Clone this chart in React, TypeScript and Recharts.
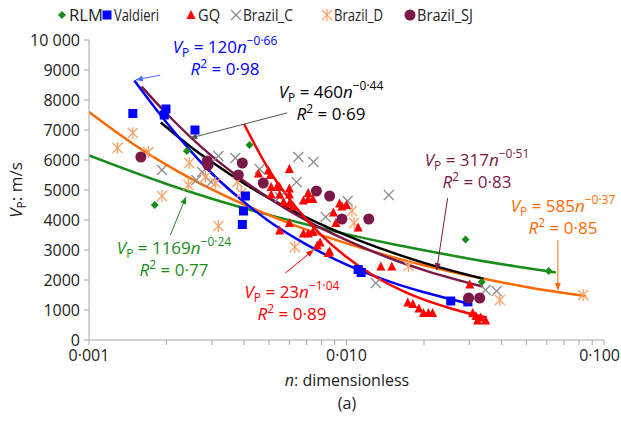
import React from 'react';
import { ComposedChart, Scatter, Line, XAxis, YAxis, ReferenceLine } from 'recharts';

// measured points, n (dimensionless) vs Vp (m/s)
const rlm = [
  { n: 0.0018, v: 4500 }, { n: 0.0024, v: 6300 }, { n: 0.0042, v: 6500 },
  { n: 0.029, v: 3350 }, { n: 0.0335, v: 1930 }, { n: 0.061, v: 2300 },
];
const valdieri = [
  { n: 0.00148, v: 7550 }, { n: 0.00199, v: 7700 }, { n: 0.00196, v: 7500 }, { n: 0.00258, v: 7000 },
  { n: 0.00405, v: 4800 }, { n: 0.00398, v: 4300 }, { n: 0.00394, v: 3850 }, { n: 0.0111, v: 2350 },
  { n: 0.0114, v: 2250 }, { n: 0.0254, v: 1300 }, { n: 0.0296, v: 1270 },
];
const gq = [
  { n: 0.00455, v: 5550 }, { n: 0.00497, v: 5650 }, { n: 0.006, v: 5700 }, { n: 0.00506, v: 5500 },
  { n: 0.0051, v: 5100 }, { n: 0.0054, v: 5150 }, { n: 0.0055, v: 5100 }, { n: 0.006, v: 5050 },
  { n: 0.006, v: 4850 }, { n: 0.0051, v: 4850 }, { n: 0.0055, v: 4850 }, { n: 0.0068, v: 4650 },
  { n: 0.0071, v: 4700 }, { n: 0.0074, v: 4700 }, { n: 0.0057, v: 4600 }, { n: 0.006, v: 4550 },
  { n: 0.0062, v: 4450 }, { n: 0.0055, v: 3650 }, { n: 0.006, v: 3900 }, { n: 0.0068, v: 3550 },
  { n: 0.0071, v: 3550 }, { n: 0.0074, v: 3600 }, { n: 0.0077, v: 3150 }, { n: 0.0079, v: 3250 },
  { n: 0.0085, v: 2900 }, { n: 0.0086, v: 2950 }, { n: 0.0071, v: 4900 }, { n: 0.0094, v: 4550 },
  { n: 0.0096, v: 4450 }, { n: 0.0089, v: 4250 }, { n: 0.0091, v: 3900 }, { n: 0.0111, v: 3750 },
  { n: 0.01, v: 4500 }, { n: 0.0136, v: 2450 }, { n: 0.015, v: 2450 }, { n: 0.0173, v: 1250 },
  { n: 0.0181, v: 1200 }, { n: 0.0191, v: 1050 }, { n: 0.0199, v: 900 }, { n: 0.0208, v: 900 },
  { n: 0.0216, v: 900 }, { n: 0.0301, v: 1850 }, { n: 0.0309, v: 900 }, { n: 0.0318, v: 800 },
  { n: 0.0323, v: 650 }, { n: 0.0332, v: 750 }, { n: 0.0347, v: 650 },
];
const brazilC = [
  { n: 0.00192, v: 5667 }, { n: 0.00318, v: 6133 }, { n: 0.0037, v: 6067 }, { n: 0.00275, v: 5600 },
  { n: 0.00298, v: 5267 }, { n: 0.00261, v: 5333 }, { n: 0.0046, v: 5700 }, { n: 0.0065, v: 6100 },
  { n: 0.00744, v: 5933 }, { n: 0.0064, v: 5267 }, { n: 0.0055, v: 4767 }, { n: 0.0083, v: 4100 },
  { n: 0.0101, v: 4633 }, { n: 0.0146, v: 4833 }, { n: 0.013, v: 1900 }, { n: 0.0347, v: 1667 },
  { n: 0.0383, v: 1633 },
];
const brazilD = [
  { n: 0.00148, v: 6900 }, { n: 0.00129, v: 6400 }, { n: 0.0017, v: 6267 }, { n: 0.00245, v: 5900 },
  { n: 0.00243, v: 5167 }, { n: 0.00192, v: 4800 }, { n: 0.00283, v: 5433 }, { n: 0.0031, v: 5233 },
  { n: 0.00377, v: 5267 }, { n: 0.0039, v: 4900 }, { n: 0.00318, v: 3800 }, { n: 0.0063, v: 3100 },
  { n: 0.0105, v: 4300 }, { n: 0.0107, v: 3900 }, { n: 0.0174, v: 2467 }, { n: 0.0394, v: 1333 },
  { n: 0.083, v: 1500 },
];
const brazilSJ = [
  { n: 0.00159, v: 6100 }, { n: 0.00288, v: 5967 }, { n: 0.0029, v: 5833 }, { n: 0.00394, v: 5900 },
  { n: 0.0038, v: 5500 }, { n: 0.00475, v: 5233 }, { n: 0.00764, v: 4967 }, { n: 0.0086, v: 4800 },
  { n: 0.0096, v: 4033 }, { n: 0.0122, v: 4033 }, { n: 0.0298, v: 1400 }, { n: 0.0329, v: 1400 },
];

// trend lines
const fitValdieri = [
  { n: 0.0015, v: 8650 }, { n: 0.002, v: 7250 }, { n: 0.003, v: 5550 }, { n: 0.004, v: 4600 },
  { n: 0.005, v: 3960 }, { n: 0.007, v: 3180 }, { n: 0.01, v: 2510 }, { n: 0.015, v: 1920 },
  { n: 0.02, v: 1590 }, { n: 0.03, v: 1210 },
];
const fitRlm = [
  { n: 0.001, v: 6150 }, { n: 0.002, v: 5200 }, { n: 0.003, v: 4710 }, { n: 0.005, v: 4170 },
  { n: 0.007, v: 3850 }, { n: 0.01, v: 3530 }, { n: 0.015, v: 3200 }, { n: 0.02, v: 2990 },
  { n: 0.03, v: 2710 }, { n: 0.045, v: 2460 }, { n: 0.065, v: 2250 },
];
const fitBrazilD = [
  { n: 0.001, v: 7600 }, { n: 0.0015, v: 6510 }, { n: 0.002, v: 5840 }, { n: 0.003, v: 5020 },
  { n: 0.005, v: 4160 }, { n: 0.007, v: 3670 }, { n: 0.01, v: 3220 }, { n: 0.015, v: 2770 },
  { n: 0.02, v: 2490 }, { n: 0.03, v: 2140 }, { n: 0.05, v: 1770 }, { n: 0.085, v: 1460 },
];
const fitBrazilC = [
  { n: 0.0019, v: 7250 }, { n: 0.0025, v: 6420 }, { n: 0.003, v: 5930 }, { n: 0.004, v: 5220 },
  { n: 0.005, v: 4730 }, { n: 0.007, v: 4080 }, { n: 0.01, v: 3490 }, { n: 0.015, v: 2920 },
  { n: 0.02, v: 2570 }, { n: 0.034, v: 2040 },
];
const fitBrazilSJ = [
  { n: 0.0016, v: 8450 }, { n: 0.002, v: 7550 }, { n: 0.003, v: 6130 }, { n: 0.004, v: 5300 },
  { n: 0.005, v: 4730 }, { n: 0.007, v: 3980 }, { n: 0.01, v: 3330 }, { n: 0.015, v: 2700 },
  { n: 0.02, v: 2330 }, { n: 0.0338, v: 1780 },
];
const fitGq = [
  { n: 0.004, v: 7200 }, { n: 0.005, v: 5670 }, { n: 0.006, v: 4700 }, { n: 0.007, v: 4010 },
  { n: 0.008, v: 3490 }, { n: 0.01, v: 2770 }, { n: 0.013, v: 2100 }, { n: 0.017, v: 1590 },
  { n: 0.022, v: 1220 }, { n: 0.028, v: 950 }, { n: 0.035, v: 750 },
];

const xTicks = [
  0.001, 0.002, 0.003, 0.004, 0.005, 0.006, 0.007, 0.008, 0.009,
  0.01, 0.02, 0.03, 0.04, 0.05, 0.06, 0.07, 0.08, 0.09, 0.1,
];
const xLabelValues = [0.001, 0.01, 0.1];
const xLabels = ['0·001', '0·010', '0·100'];
const yTicks = [0, 1000, 2000, 3000, 4000, 5000, 6000, 7000, 8000, 9000, 10000];

const FONT = '"Open Sans", "Noto Sans", sans-serif';
const AXIS = '#a6a6a6';

const C_GREEN = '#1a8c1a';
const C_BLUE = '#0000ff';
const C_RED = '#ff0000';
const C_GRAY = '#8c8c8c';
const C_LORANGE = '#f7a46a';
const C_MAROON = '#7a1848';
const C_ORANGE = '#ff6a00';
const C_BLACK = '#000000';

const diamond = (p: any) => (
  <polygon points={`${p.cx},${p.cy - 4} ${p.cx + 4},${p.cy} ${p.cx},${p.cy + 4} ${p.cx - 4},${p.cy}`} fill={C_GREEN} />
);
const square = (p: any) => <rect x={p.cx - 4.5} y={p.cy - 4.5} width={9} height={9} fill={C_BLUE} />;
const triangle = (p: any) => (
  <polygon points={`${p.cx},${p.cy - 5} ${p.cx + 4.5},${p.cy + 4} ${p.cx - 4.5},${p.cy + 4}`} fill={C_RED} />
);
const cross = (p: any) => (
  <g stroke={C_GRAY} strokeWidth={1.2}>
    <line x1={p.cx - 5} y1={p.cy - 5} x2={p.cx + 5} y2={p.cy + 5} />
    <line x1={p.cx - 5} y1={p.cy + 5} x2={p.cx + 5} y2={p.cy - 5} />
  </g>
);
const asterisk = (p: any) => (
  <g stroke={C_LORANGE} strokeWidth={1.3}>
    <line x1={p.cx - 5} y1={p.cy - 5} x2={p.cx + 5} y2={p.cy + 5} />
    <line x1={p.cx - 5} y1={p.cy + 5} x2={p.cx + 5} y2={p.cy - 5} />
    <line x1={p.cx} y1={p.cy - 6} x2={p.cx} y2={p.cy + 6} />
  </g>
);
const circle = (p: any) => <circle cx={p.cx} cy={p.cy} r={5.5} fill={C_MAROON} />;

const XTick = (props: any) => {
  const { x, y, payload } = props;
  const i = xLabelValues.findIndex((d) => Math.abs(d - payload.value) < 1e-9);
  if (i < 0) return <g />;
  const last = i === xLabels.length - 1;
  return (
    <text x={last ? 620 : x} y={y + 14} textAnchor={last ? 'end' : 'middle'} fontFamily={FONT} fontSize={16} fill="#222">
      {xLabels[i]}
    </text>
  );
};

const YTick = (props: any) => {
  const { x, y, payload } = props;
  const label = payload.value === 10000 ? '10 000' : String(payload.value);
  return (
    <text x={x - 2} y={y + 6} textAnchor="end" fontFamily={FONT} fontSize={16} fill="#222">
      {label}
    </text>
  );
};

const arrowLine = (color: string, head: boolean) => (p: any) => {
  const { x1, y1, x2, y2 } = p;
  const a = Math.atan2(y2 - y1, x2 - x1);
  const L = 7, W = 3;
  const bx = x2 - L * Math.cos(a), by = y2 - L * Math.sin(a);
  const pts = `${x2},${y2} ${bx + W * Math.sin(a)},${by - W * Math.cos(a)} ${bx - W * Math.sin(a)},${by + W * Math.cos(a)}`;
  return (
    <g>
      <line x1={x1} y1={y1} x2={x2} y2={y2} stroke={color} strokeWidth={1} />
      {head && <polygon points={pts} fill={color} />}
    </g>
  );
};

const Eq = ({ cx, y, coef, exp, r2, color }: any) => (
  <g fontFamily={FONT} fill={color}>
    <text x={cx} y={y} textAnchor="middle" fontSize={17}>
      <tspan fontStyle="italic">V</tspan>
      <tspan fontSize={12} dy={4}>P</tspan>
      <tspan dy={-4}>{` = ${coef}`}</tspan>
      <tspan fontStyle="italic">n</tspan>
      <tspan fontSize={12} dy={-8}>{`−${exp}`}</tspan>
    </text>
    <text x={cx} y={y + 22} textAnchor="middle" fontSize={17}>
      <tspan fontStyle="italic">R</tspan>
      <tspan fontSize={12} dy={-7}>2</tspan>
      <tspan dy={7}>{` =  ${r2}`}</tspan>
    </text>
  </g>
);

const legendItems = [
  { label: 'RLM', x: 62, w: 34, mark: 'diamond' },
  { label: 'Valdieri', x: 107, w: 45, mark: 'square' },
  { label: 'GQ', x: 191, w: 22, mark: 'triangle' },
  { label: 'Brazil_C', x: 236, w: 50, mark: 'cross' },
  { label: 'Brazil_D', x: 327, w: 49, mark: 'asterisk' },
  { label: 'Brazil_SJ', x: 410, w: 56, mark: 'circle' },
];
const marks: Record<string, (p: any) => any> = { diamond, square, triangle, cross, asterisk, circle };

export default function App() {
  return (
    <div style={{ position: 'absolute', left: 0, top: 0, width: 621, height: 421, background: '#fff' }}>
      <ComposedChart width={621} height={421} margin={{ top: 40, right: 17, bottom: 0, left: 0 }}>
        <XAxis
          dataKey="n"
          type="number"
          scale="log"
          domain={[0.001, 0.1]}
          ticks={xTicks}
          interval={0}
          allowDataOverflow
          height={81}
          stroke={AXIS}
          tickSize={5}
          tick={<XTick />}
        />
        <YAxis
          dataKey="v"
          type="number"
          domain={[0, 10000]}
          ticks={yTicks}
          interval={0}
          width={89}
          stroke={AXIS}
          tickSize={5}
          tick={<YTick />}
        />
        <Scatter data={brazilC} shape={cross} isAnimationActive={false} />
        <Scatter data={brazilD} shape={asterisk} isAnimationActive={false} />
        <Scatter data={rlm} shape={diamond} isAnimationActive={false} />
        <Scatter data={valdieri} shape={square} isAnimationActive={false} />
        <Scatter data={gq} shape={triangle} isAnimationActive={false} />
        <Scatter data={brazilSJ} shape={circle} isAnimationActive={false} />
        <Line data={fitRlm} dataKey="v" type="monotone" stroke={C_GREEN} strokeWidth={2.5} dot={false} isAnimationActive={false} />
        <Line data={fitBrazilD} dataKey="v" type="monotone" stroke={C_ORANGE} strokeWidth={2.5} dot={false} isAnimationActive={false} />
        <Line data={fitBrazilC} dataKey="v" type="monotone" stroke={C_BLACK} strokeWidth={2.5} dot={false} isAnimationActive={false} />
        <Line data={fitValdieri} dataKey="v" type="monotone" stroke={C_BLUE} strokeWidth={2.5} dot={false} isAnimationActive={false} />
        <Line data={fitBrazilSJ} dataKey="v" type="monotone" stroke={C_MAROON} strokeWidth={2.5} dot={false} isAnimationActive={false} />
        <Line data={fitGq} dataKey="v" type="monotone" stroke={C_RED} strokeWidth={2.5} dot={false} isAnimationActive={false} />
        <ReferenceLine segment={[{ x: 0.00189, y: 8830 }, { x: 0.00152, y: 8670 }]} shape={arrowLine('#4a6cf7', true)} />
        <ReferenceLine segment={[{ x: 0.00589, y: 7570 }, { x: 0.00247, y: 6730 }]} shape={arrowLine('#555', true)} />
        <ReferenceLine segment={[{ x: 0.0247, y: 4730 }, { x: 0.0224, y: 2330 }]} shape={arrowLine(C_MAROON, true)} />
        <ReferenceLine segment={[{ x: 0.0662, y: 3330 }, { x: 0.0662, y: 1670 }]} shape={arrowLine(C_ORANGE, true)} />
        <ReferenceLine segment={[{ x: 0.00207, y: 3500 }, { x: 0.00238, y: 4770 }]} shape={arrowLine(C_GREEN, true)} />
        <ReferenceLine segment={[{ x: 0.00579, y: 2230 }, { x: 0.00744, y: 3000 }]} shape={arrowLine(C_RED, true)} />
      </ComposedChart>
      <svg width={621} height={421} style={{ position: 'absolute', left: 0, top: 0, pointerEvents: 'none' }}>
        {legendItems.map((it) => (
          <g key={it.label}>
            {marks[it.mark]({ cx: it.x, cy: 15 })}
            <text x={it.x + 7} y={21} fontFamily={FONT} fontSize={16} fill="#222" textLength={it.w} lengthAdjust="spacingAndGlyphs">
              {it.label}
            </text>
          </g>
        ))}
        <Eq cx={225} y={53} coef="120" exp="0·66" r2="0·98" color={C_BLUE} />
        <Eq cx={331} y={98} coef="460" exp="0·44" r2="0·69" color={C_BLACK} />
        <Eq cx={477} y={166} coef="317" exp="0·51" r2="0·83" color={C_MAROON} />
        <Eq cx={563} y={212} coef="585" exp="0·37" r2="0·85" color={C_ORANGE} />
        <Eq cx={174} y={254} coef="1169" exp="0·24" r2="0·77" color={C_GREEN} />
        <Eq cx={292} y={298} coef="23" exp="1·04" r2="0·89" color={C_RED} />
        <text transform="translate(22,190) rotate(-90)" textAnchor="middle" fontFamily={FONT} fontSize={17} fill="#222">
          <tspan fontStyle="italic">V</tspan>
          <tspan fontSize={12} dy={4}>P</tspan>
          <tspan dy={-4}>: m/s</tspan>
        </text>
        <text x={347} y={386} textAnchor="middle" fontFamily={FONT} fontSize={16} fill="#222">
          <tspan fontStyle="italic">n</tspan>: dimensionless
        </text>
        <text x={347} y={409} textAnchor="middle" fontFamily={FONT} fontSize={16} fill="#222">(a)</text>
      </svg>
    </div>
  );
}
